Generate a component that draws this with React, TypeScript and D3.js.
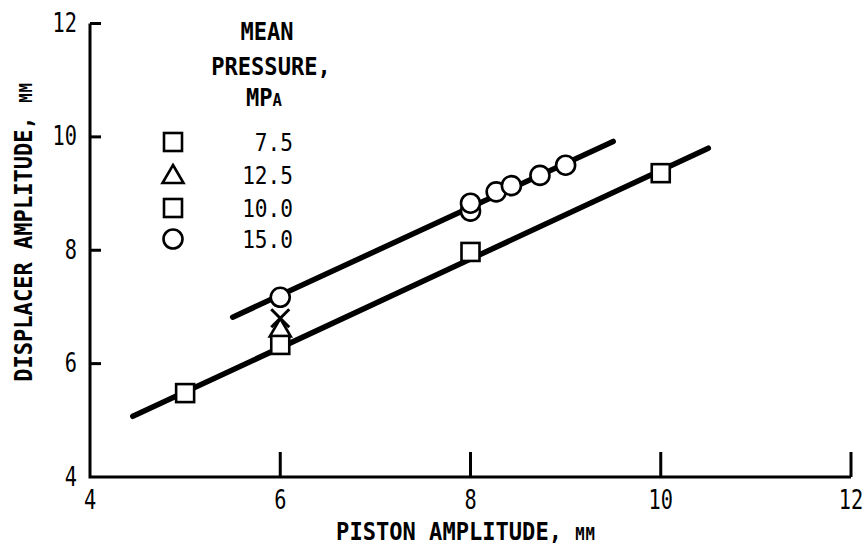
import React from 'react';
import * as d3 from 'd3';

const xTicks = [4, 6, 8, 10, 12];
const yTicks = [4, 6, 8, 10, 12];

const series75: [number, number][] = [[5, 5.48], [8, 7.97], [10, 9.36]];
const series100: [number, number][] = [[6, 6.33]];
const series125: [number, number][] = [[6, 6.62]];
const series150: [number, number][] = [[6, 7.17], [8, 8.69], [8, 8.83], [8.27, 9.03], [8.43, 9.14], [8.73, 9.32], [9.0, 9.5]];
const crossPoints: [number, number][] = [[6, 6.8]];
const lowerFit: [number, number][] = [[4.45, 5.07], [10.5, 9.8]];
const upperFit: [number, number][] = [[5.5, 6.82], [9.5, 9.92]];

const legendLabels = ['7.5', '12.5', '10.0', '15.0'];
const legendShapes = ['square', 'triangle', 'square', 'circle'];

const FONT = '"DejaVu Sans Mono", monospace';

function Marker({ shape, cx, cy, s = 1 }: { shape: string; cx: number; cy: number; s?: number }) {
  const sw = 2.6;
  if (shape === 'square') {
    const h = 9 * s;
    return <rect x={cx - h} y={cy - h} width={2 * h} height={2 * h} fill="#fff" stroke="#000" strokeWidth={sw} />;
  }
  if (shape === 'circle') {
    return <circle cx={cx} cy={cy} r={9.5 * s} fill="#fff" stroke="#000" strokeWidth={sw} />;
  }
  if (shape === 'triangle') {
    const w = 10.5 * s;
    const p = `${cx},${cy - 10 * s} ${cx + w},${cy + 8 * s} ${cx - w},${cy + 8 * s}`;
    return <polygon points={p} fill="#fff" stroke="#000" strokeWidth={sw} strokeLinejoin="miter" />;
  }
  const d = 9 * s;
  return (
    <g stroke="#000" strokeWidth={3}>
      <line x1={cx - d} y1={cy - d} x2={cx + d} y2={cy + d} />
      <line x1={cx + d} y1={cy - d} x2={cx - d} y2={cy + d} />
    </g>
  );
}

export default function App() {
  const x = d3.scaleLinear().domain([4, 12]).range([90, 851]);
  const y = d3.scaleLinear().domain([4, 12]).range([477, 23.5]);
  const line = d3.line<[number, number]>().x(d => x(d[0])).y(d => y(d[1]));

  const tickText = (label: string, tx: number, ty: number, anchor: string) => (
    <text
      key={label + tx + ty}
      transform={`translate(${tx},${ty}) scale(0.78,1)`}
      textAnchor={anchor}
      fontFamily={FONT}
      fontSize={26}
    >
      {label}
    </text>
  );

  const legendRowY = [142, 175, 208, 239];

  return (
    <svg width={865} height={550} style={{ position: 'absolute', left: 0, top: 0, background: '#fff' }}>
      <rect width={865} height={550} fill="#fff" />
      <g stroke="#000" strokeWidth={3} fill="none">
        <path d={`M${x(4)},${y(12)} V${y(4)} H${x(12)}`} strokeLinejoin="miter" />
        {yTicks.filter(t => t > 4).map(t => (
          <line key={'yt' + t} x1={x(4)} x2={x(4) + 11} y1={y(t)} y2={y(t)} />
        ))}
        {xTicks.filter(t => t > 4).map(t => (
          <line key={'xt' + t} x1={x(t)} x2={x(t)} y1={y(4)} y2={y(4) - 25} />
        ))}
      </g>
      {yTicks.map(t => tickText(String(t), 77, y(t) + 8.5, 'end'))}
      {xTicks.map(t => tickText(String(t), x(t), 509, 'middle'))}

      <text transform={`translate(466,540) scale(0.92,1)`} textAnchor="middle" fontFamily={FONT} fontSize={24} fontWeight="bold">
        PISTON AMPLITUDE, <tspan fontSize={17} letterSpacing={1}>MM</tspan>
      </text>
      <text transform={`translate(32,232) rotate(-90) scale(0.92,1)`} textAnchor="middle" fontFamily={FONT} fontSize={24} fontWeight="bold">
        DISPLACER AMPLITUDE, <tspan fontSize={17} letterSpacing={1}>MM</tspan>
      </text>

      <g stroke="#000" strokeWidth={5.5} strokeLinecap="round" fill="none">
        <path d={line(lowerFit) || ''} />
        <path d={line(upperFit) || ''} />
      </g>

      {series125.map((d, i) => <Marker key={'t' + i} shape="triangle" cx={x(d[0])} cy={y(d[1])} />)}
      {series75.map((d, i) => <Marker key={'a' + i} shape="square" cx={x(d[0])} cy={y(d[1])} />)}
      {series100.map((d, i) => <Marker key={'b' + i} shape="square" cx={x(d[0])} cy={y(d[1])} />)}
      {series150.map((d, i) => <Marker key={'c' + i} shape="circle" cx={x(d[0])} cy={y(d[1])} />)}
      {crossPoints.map((d, i) => <Marker key={'x' + i} shape="cross" cx={x(d[0])} cy={y(d[1])} />)}

      <g fontFamily={FONT} fontSize={24} fontWeight="bold" textAnchor="middle">
        <text transform="translate(267,40) scale(0.92,1)">MEAN</text>
        <text transform="translate(271,75) scale(0.92,1)">PRESSURE,</text>
        <text transform="translate(264,106) scale(0.92,1)">MP<tspan fontSize={17}>A</tspan></text>
      </g>
      {legendLabels.map((lab, i) => (
        <g key={'lg' + i}>
          <Marker shape={legendShapes[i]} cx={173} cy={legendRowY[i]} />
          <text transform={`translate(293,${legendRowY[i] + 9}) scale(0.88,1)`} textAnchor="end" fontFamily={FONT} fontSize={24}>
            {lab}
          </text>
        </g>
      ))}
    </svg>
  );
}
